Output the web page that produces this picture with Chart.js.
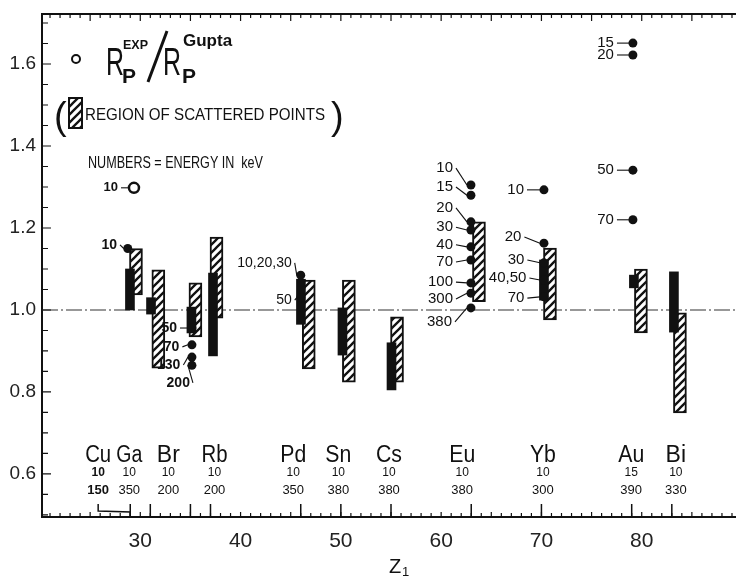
<!DOCTYPE html>
<html>
<head>
<meta charset="utf-8">
<script src="https://cdn.jsdelivr.net/npm/chart.js@4.4.1/dist/chart.umd.min.js"></script>
<style>
  html, body { margin: 0; padding: 0; background: #fff; }
</style>
</head>
<body>
<canvas id="range-chart" width="736" height="578"></canvas>
<script>
// ---- data (Z1 = atomic number, value = Rp exp / Rp Gupta) ----
const elementNames = ['Cu', 'Ga', 'Br', 'Rb', 'Pd', 'Sn', 'Cs', 'Eu', 'Yb', 'Au', 'Bi'];
const elementZ = [29, 31, 35, 37, 46, 50, 55, 63, 70, 79, 83];
const elementLabelZ = [25.8, 28.9, 32.8, 37.4, 45.25, 49.75, 54.8, 62.1, 70.15, 78.95, 83.4];
const lowEnergy = ['10', '10', '10', '10', '10', '10', '10', '10', '10', '15', '10'];
const highEnergy = ['150', '350', '200', '200', '350', '380', '380', '380', '300', '390', '330'];

// solid bars (dense measured points)
const solidZ = [28.97, 31.07, 35.1, 37.25, 46.02, 50.16, 55.05, 70.25, 79.22, 83.21];
const solidLow = [1.0, 0.99, 0.944, 0.888, 0.965, 0.89, 0.805, 1.024, 1.054, 0.946];
const solidHigh = [1.10, 1.03, 1.007, 1.09, 1.075, 1.005, 0.92, 1.122, 1.085, 1.093];

// hatched bars (region of scattered points)
const hatchZ = [29.57, 31.8, 35.5, 37.6, 46.8, 50.8, 55.6, 63.77, 70.85, 79.92, 83.81];
const hatchLow = [1.037, 0.858, 0.934, 0.98, 0.856, 0.824, 0.824, 1.02, 0.976, 0.944, 0.749];
const hatchHigh = [1.15, 1.098, 1.066, 1.178, 1.073, 1.073, 0.983, 1.215, 1.151, 1.1, 0.993];

// single points, labelled by energy in keV
const cuPointZ = 28.75, cuEnergy = ['10'], cuRatio = [1.15];
const brPointZ = 35.15, brEnergy = ['50', '70', '130', '200'], brRatio = [0.956, 0.915, 0.885, 0.865];
const pdPointZ = 46.0, pdEnergy = ['10,20,30', '50'], pdRatio = [1.085, 1.03];
const euPointZ = 62.97, euEnergy = ['10', '15', '20', '30', '40', '70', '100', '300', '380'];
const euRatio = [1.305, 1.28, 1.215, 1.195, 1.154, 1.122, 1.066, 1.041, 1.005];
const ybPointZ = 70.25, ybEnergy = ['10', '20', '30', '40,50', '70'], ybRatio = [1.293, 1.163, 1.115, 1.073, 1.032];
const auPointZ = 79.12, auEnergy = ['15', '20', '50', '70'], auRatio = [1.651, 1.622, 1.341, 1.22];
// open circle
const openZ = 29.37, openEnergy = ['10'], openRatio = [1.298];

const xTicks = [30, 40, 50, 60, 70, 80];
const yTicks = [0.6, 0.8, 1.0, 1.2, 1.4, 1.6];

// where the energy labels sit (data units: right edge Z, ratio)
const FONT = "'Liberation Sans', Arial, sans-serif";
const pointGroups = [
  { z: cuPointZ, ratio: cuRatio, energy: cuEnergy, textZ: [27.68], textRatio: [1.159], font: 'bold 14px ' + FONT },
  { z: openZ, ratio: openRatio, energy: openEnergy, textZ: [27.78], textRatio: [1.298], font: 'bold 13px ' + FONT },
  { z: brPointZ, ratio: brRatio, energy: brEnergy, textZ: [33.66, 33.9, 34.0, 34.95], textRatio: [0.956, 0.91, 0.866, 0.822], font: 'bold 14px ' + FONT },
  { z: pdPointZ, ratio: pdRatio, energy: pdEnergy, textZ: [45.1, 45.1], textRatio: [1.115, 1.024], font: '14px ' + FONT },
  { z: euPointZ, ratio: euRatio, energy: euEnergy, textZ: [61.18, 61.18, 61.18, 61.18, 61.18, 61.18, 61.18, 61.18, 61.08],
    textRatio: [1.346, 1.3, 1.249, 1.202, 1.159, 1.117, 1.068, 1.027, 0.971], font: '15px ' + FONT },
  { z: ybPointZ, ratio: ybRatio, energy: ybEnergy, textZ: [68.26, 68.0, 68.3, 68.5, 68.3], textRatio: [1.293, 1.178, 1.122, 1.078, 1.029], font: '15px ' + FONT },
  { z: auPointZ, ratio: auRatio, energy: auEnergy, textZ: [77.23, 77.23, 77.23, 77.23], textRatio: [1.651, 1.622, 1.341, 1.22], font: '15px ' + FONT }
];

// hatch pattern
function makeHatch() {
  const c = document.createElement('canvas');
  c.width = 8; c.height = 8;
  const g = c.getContext('2d');
  g.fillStyle = '#fff';
  g.fillRect(0, 0, 8, 8);
  g.strokeStyle = '#111';
  g.lineWidth = 2.3;
  g.beginPath();
  g.moveTo(-2, 10); g.lineTo(10, -2);
  g.moveTo(-2, 2); g.lineTo(2, -2);
  g.moveTo(6, 10); g.lineTo(10, 6);
  g.stroke();
  return g.createPattern(c, 'repeat');
}

const ctx = document.getElementById('range-chart');
const hatch = makeHatch();

const filledPoints = [];
pointGroups.slice(0, 1).concat(pointGroups.slice(2)).forEach(function (g) {
  g.ratio.forEach(function (r) { filledPoints.push({ x: g.z, y: r }); });
});

const annotate = {
  id: 'annotate',
  beforeDatasetsDraw: function (chart) {
    const c = chart.ctx, a = chart.chartArea, y = chart.scales.y;
    const y1 = y.getPixelForValue(1.0);
    c.save();
    c.strokeStyle = '#333';
    c.lineWidth = 1.2;
    c.setLineDash([16, 3, 2, 3]);
    c.beginPath();
    c.moveTo(a.left, y1); c.lineTo(a.right, y1);
    c.stroke();
    c.restore();
  },
  afterDraw: function (chart) {
    const c = chart.ctx, a = chart.chartArea, x = chart.scales.x, y = chart.scales.y;
    c.save();
    c.strokeStyle = '#111';
    c.fillStyle = '#111';

    // top frame
    c.lineWidth = 2;
    c.beginPath(); c.moveTo(a.left, a.top); c.lineTo(a.right, a.top); c.stroke();

    // minor ticks
    c.lineWidth = 1.2;
    c.beginPath();
    for (let z = 21; z <= 89; z++) {
      const px = x.getPixelForValue(z);
      const topLen = z % 5 === 0 ? 7 : 4;
      c.moveTo(px, a.top); c.lineTo(px, a.top + topLen);
      c.moveTo(px, a.bottom); c.lineTo(px, a.bottom - (z % 5 === 0 ? 5 : 4));
    }
    for (let v = 0.5; v <= 1.7001; v += 0.05) {
      const py = y.getPixelForValue(v);
      const major = Math.abs(v * 5 - Math.round(v * 5)) < 1e-6;
      c.moveTo(a.left, py); c.lineTo(a.left + (major ? 9 : 6), py);
    }
    c.stroke();
    // taller ticks at measured elements
    c.lineWidth = 1.5;
    c.beginPath();
    elementZ.forEach(function (z) {
      const px = x.getPixelForValue(z);
      c.moveTo(px, a.bottom); c.lineTo(px, a.bottom - 13);
    });
    c.stroke();

    // Cu bracket
    const bx0 = x.getPixelForValue(25.8), bx1 = x.getPixelForValue(elementZ[0]);
    c.lineWidth = 1.5;
    c.beginPath();
    c.moveTo(bx0, a.bottom - 13); c.lineTo(bx0, a.bottom - 6);
    c.lineTo(bx1, a.bottom - 5); c.lineTo(bx1, a.bottom);
    c.stroke();

    // element names and energy ranges
    c.textAlign = 'center';
    c.textBaseline = 'middle';
    elementNames.forEach(function (name, i) {
      const px = x.getPixelForValue(elementLabelZ[i]);
      c.font = '23px ' + FONT;
      c.fillText(name, px, a.bottom - 61, 26);
      c.font = (i === 0 ? 'bold 12px ' : '12px ') + FONT;
      c.fillText(lowEnergy[i], px, a.bottom - 44);
      c.font = (i === 0 ? 'bold 13px ' : '13px ') + FONT;
      c.fillText(highEnergy[i], px, a.bottom - 27);
    });

    // energy labels with leader lines
    c.lineWidth = 1.1;
    pointGroups.forEach(function (g) {
      c.font = g.font;
      c.textAlign = 'right';
      g.energy.forEach(function (e, k) {
        const tx = x.getPixelForValue(g.textZ[k]);
        const ty = y.getPixelForValue(g.textRatio[k]);
        const px = x.getPixelForValue(g.z);
        const py = y.getPixelForValue(g.ratio[k]);
        c.fillText(e, tx, ty);
        c.beginPath();
        c.moveTo(tx + 3, ty);
        c.lineTo(px - 4, py);
        c.stroke();
      });
    });

    // legend block
    const L = a.left, T = a.top;
    c.textAlign = 'left';
    c.textBaseline = 'alphabetic';
    c.lineWidth = 2;
    c.beginPath(); c.arc(L + 34, T + 45, 4, 0, Math.PI * 2); c.stroke();
    c.font = '39px ' + FONT;
    c.fillText('R', L + 64, T + 61, 18);
    c.fillText('R', L + 121, T + 61, 18);
    c.font = 'bold 21px ' + FONT;
    c.fillText('P', L + 80, T + 69);
    c.fillText('P', L + 140, T + 69);
    c.font = 'bold 13px ' + FONT;
    c.fillText('EXP', L + 81, T + 35, 25);
    c.font = 'bold 17px ' + FONT;
    c.fillText('Gupta', L + 141, T + 32, 58);
    c.lineWidth = 3;
    c.beginPath(); c.moveTo(L + 106, T + 68); c.lineTo(L + 125, T + 17); c.stroke();

    c.font = '38px ' + FONT;
    c.fillText('(', L + 12, T + 115);
    c.fillText(')', L + 289, T + 115);
    c.fillStyle = hatch;
    c.fillRect(L + 27, T + 84, 13, 30);
    c.lineWidth = 2;
    c.strokeRect(L + 27, T + 84, 13, 30);
    c.fillStyle = '#111';
    c.font = '17px ' + FONT;
    c.fillText('REGION OF SCATTERED POINTS', L + 43, T + 106, 240);
    c.font = '16px ' + FONT;
    c.fillText('NUMBERS = ENERGY IN  keV', L + 46, T + 154, 175);

    // axis title Z1
    c.font = '20px ' + FONT;
    c.fillText('Z', x.getPixelForValue(54.8), a.bottom + 56, 13);
    c.font = '13px ' + FONT;
    c.fillText('1', x.getPixelForValue(54.8) + 13, a.bottom + 59);
    c.restore();
  }
};

new Chart(ctx, {
  type: 'bar',
  data: {
    datasets: [
      {
        type: 'scatter',
        label: 'open',
        data: [{ x: openZ, y: openRatio[0] }],
        pointRadius: 5,
        pointBackgroundColor: '#fff',
        pointBorderColor: '#111',
        pointBorderWidth: 2.5,
        order: 0
      },
      {
        type: 'scatter',
        label: 'points',
        data: filledPoints,
        pointRadius: 4.5,
        pointBackgroundColor: '#111',
        pointBorderColor: '#111',
        pointBorderWidth: 0,
        order: 0
      },
      {
        label: 'solid',
        data: solidZ.map(function (z, i) { return { x: z, y: [solidLow[i], solidHigh[i]] }; }),
        backgroundColor: '#111',
        borderColor: '#111',
        borderWidth: 0,
        barThickness: 9,
        grouped: false,
        order: 1
      },
      {
        label: 'scattered region',
        data: hatchZ.map(function (z, i) { return { x: z, y: [hatchLow[i], hatchHigh[i]] }; }),
        backgroundColor: hatch,
        borderColor: '#111',
        borderWidth: 2,
        borderSkipped: false,
        barThickness: 13,
        grouped: false,
        order: 2
      }
    ]
  },
  options: {
    responsive: false,
    animation: false,
    layout: { autoPadding: false, padding: { top: 14, right: 0, left: 0, bottom: 0 } },
    plugins: {
      legend: { display: false },
      tooltip: { enabled: false }
    },
    scales: {
      x: {
        type: 'linear',
        min: 20.2,
        max: 89.4,
        offset: false,
        afterBuildTicks: function (scale) { scale.ticks = xTicks.map(function (v) { return { value: v }; }); },
        afterFit: function (scale) {
          scale.height = 61;
          scale.paddingLeft = 0;
          scale.paddingRight = 0;
        },
        grid: { display: false, drawTicks: false },
        border: { display: true, color: '#111', width: 2 },
        ticks: {
          color: '#222',
          padding: 12,
          maxRotation: 0,
          font: { family: FONT, size: 21 },
          callback: function (v) { return v; }
        }
      },
      y: {
        min: 0.495,
        max: 1.722,
        afterBuildTicks: function (scale) { scale.ticks = yTicks.map(function (v) { return { value: v }; }); },
        afterFit: function (scale) {
          scale.width = 42;
          scale.paddingTop = 0;
          scale.paddingBottom = 0;
        },
        grid: { display: false, drawTicks: false },
        border: { display: true, color: '#111', width: 2 },
        ticks: {
          color: '#222',
          padding: 6,
          font: { family: FONT, size: 19 },
          callback: function (v) { return v.toFixed(1); }
        }
      }
    }
  },
  plugins: [annotate]
});
</script>
</body>
</html>
